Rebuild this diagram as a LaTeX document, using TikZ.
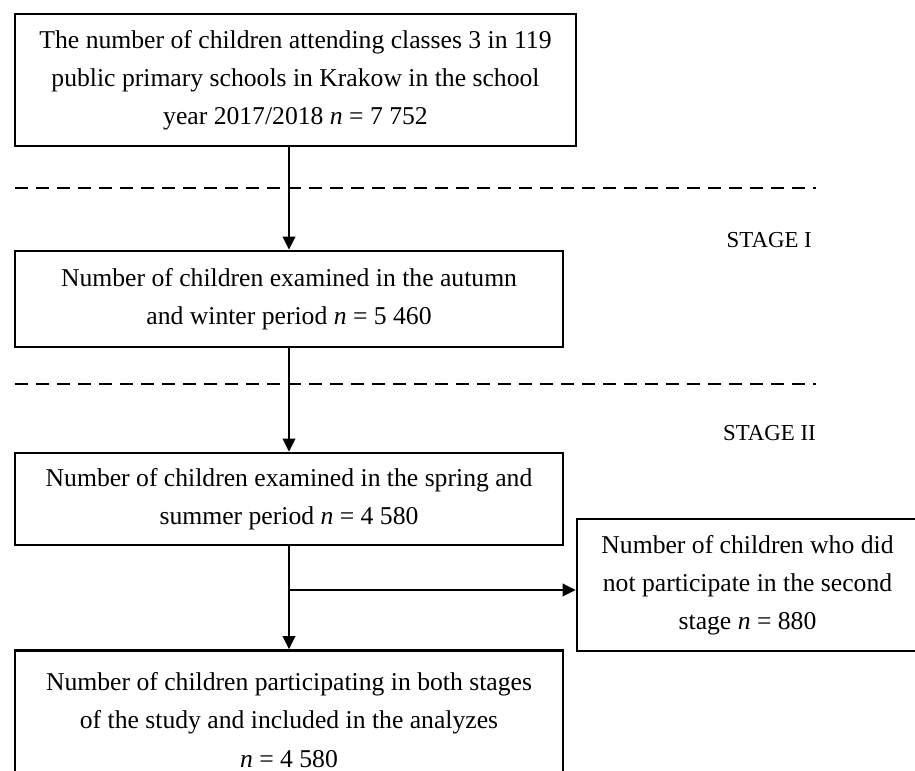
\documentclass[tikz,border=0pt]{standalone}
\usepackage{fontspec}
\setmainfont{Liberation Serif}
\usetikzlibrary{arrows.meta}

\begin{document}
\begin{tikzpicture}[
	stagebox/.style={draw, line width=0.55mm, align=center, inner sep=0pt, font=\fontsize{14.6}{21.7}\selectfont},
	flow/.style={line width=0.45mm, -{Triangle[length=2.6mm, width=2.5mm]}},
	divider/.style={line width=0.5mm, dash pattern=on 2.6mm off 1.6mm}
	]
			%%%%% START %%%%%
			
			\useasboundingbox (0, 0) rectangle (18.3, 15.42);
			
			\node[stagebox, minimum width=11.22cm, minimum height=2.64cm] (total) at (5.91, 13.82) {The number of children attending classes 3 in 119\\ public primary schools in Krakow in the school\\ year 2017/2018 \textit{n} = 7 752};
			\node[stagebox, minimum width=10.96cm, minimum height=1.92cm] (autumn) at (5.78, 9.44) {Number of children examined in the autumn\\ and winter period \textit{n} = 5 460};
			\node[stagebox, minimum width=10.96cm, minimum height=1.84cm] (spring) at (5.78, 5.44) {Number of children examined in the spring and\\ summer period \textit{n} = 4 580};
			\node[stagebox, minimum width=6.82cm, minimum height=2.64cm] (dropout) at (14.95, 3.72) {Number of children who did\\ not participate in the second\\ stage \textit{n} = 880};
			\node[stagebox, minimum width=10.96cm, minimum height=2.78cm] (both) at (5.78, 1.02) {Number of children participating in both stages\\ of the study and included in the analyzes\\ \textit{n} = 4 580};
			
			\draw[divider] (0.3, 11.66) -- (16.32, 11.66);
			\draw[divider] (0.3, 7.74) -- (16.32, 7.74);
			
			\node[anchor=east, font=\fontsize{13}{15}\selectfont] (stageone) at (16.36, 10.62) {STAGE I};
			\node[anchor=east, font=\fontsize{13}{15}\selectfont] (stagetwo) at (16.44, 6.76) {STAGE II};
			
			\draw[flow] (autumn.north |- total.south) -- (autumn.north);
			\draw[flow] (autumn.south) -- (spring.north);
			\draw[flow] (spring.south) -- (both.north);
			
			\coordinate (branch) at (5.78, 3.62);
			\draw[flow] (branch) -- (branch -| dropout.west);
			
			%%%%% END %%%%%
\end{tikzpicture}
\end{document}
